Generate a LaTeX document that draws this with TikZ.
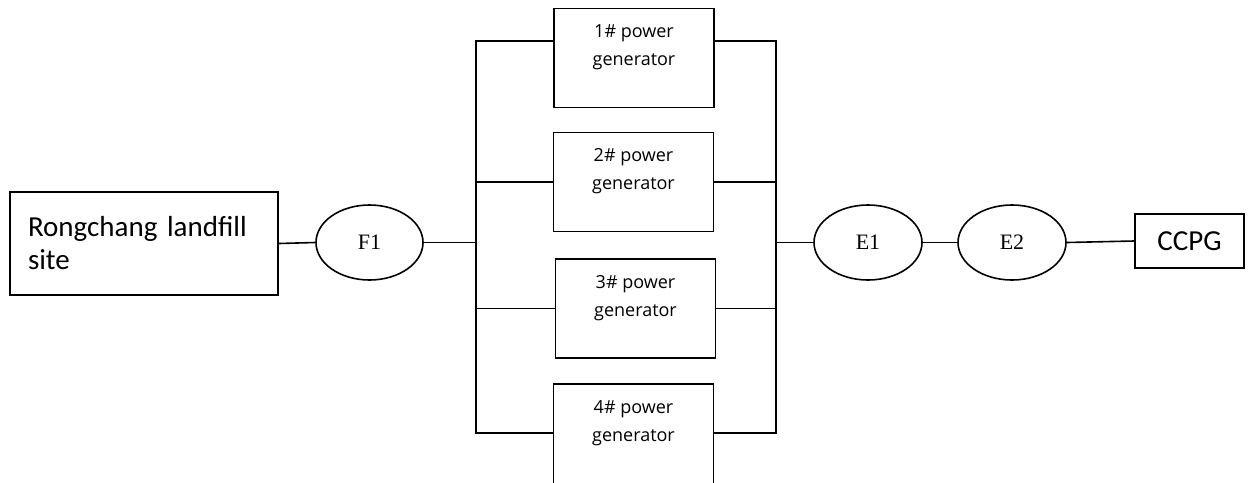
\documentclass[tikz,border=0pt]{standalone}
\usepackage{fontspec}
\usetikzlibrary{shapes.geometric,calc}
\newfontfamily\genfont{Open Sans}
\newfontfamily\calfont{Carlito}
\newfontfamily\serfont{Liberation Serif}
\tikzset{
  wire/.style={line width=1.6pt},
  boxstyle/.style={draw, line width=1.6pt, rectangle, inner sep=0pt},
  ell/.style={draw, line width=1.6pt, ellipse, inner sep=0pt, font=\serfont\fontsize{22}{26}\selectfont},
  genbox/.style={boxstyle, minimum width=160pt, minimum height=99pt},
  gentext/.style={anchor=north, inner sep=0pt, yshift=-17pt, align=center, font=\genfont\fontsize{18}{28}\selectfont},
}
\begin{document}
\begin{tikzpicture}[x=1pt,y=-1pt]
\clip (0,0) rectangle (1250,482);
\useasboundingbox (0,0) rectangle (1250,482);
% left box
\node[boxstyle, minimum width=268pt, minimum height=103pt, text width=232pt, align=left,
      font=\calfont\fontsize{29}{33}\selectfont] (site) at (144,243.5) {Rongchang landfill\\site};
\node[ell, minimum width=107pt, minimum height=75pt] (F1) at (369.5,242.5) {F1};
% generators
\node[genbox, label={[gentext]north:{1\# power\\generator}}] (g1) at (634,58) {};
\node[genbox, label={[gentext]north:{2\# power\\generator}}] (g2) at (633.5,182) {};
\node[genbox, label={[gentext]north:{3\# power\\generator}}] (g3) at (635.5,308.5) {};
\node[genbox, minimum height=100pt, label={[gentext]north:{4\# power\\generator}}] (g4) at (633.5,434) {};
% right side
\node[ell, minimum width=108pt, minimum height=75pt] (E1) at (868,242.5) {E1};
\node[ell, minimum width=108pt, minimum height=75pt] (E2) at (1012,242.5) {E2};
\node[boxstyle, minimum width=109pt, minimum height=54pt, font=\calfont\fontsize{29}{33}\selectfont] (CCPG) at (1189.5,241) {CCPG};
% bus coordinates
\coordinate (lt) at (476,41);
\coordinate (lb) at (476,433);
\coordinate (rt) at (776,41);
\coordinate (rb) at (776,433);
% connectors
\draw[wire] (site.east) -- (F1.west);
\draw[wire] (F1.east) -- (F1.east -| lt);
\draw[wire] (g1.west |- lt) -- (lt) -- (lb) -- (g4.west |- lb);
\draw[wire] (g2.west) -- (g2.west -| lt);
\draw[wire] (g3.west) -- (g3.west -| lt);
\draw[wire] (g1.east |- rt) -- (rt) -- (rb) -- (g4.east |- rb);
\draw[wire] (g2.east) -- (g2.east -| rt);
\draw[wire] (g3.east) -- (g3.east -| rt);
\draw[wire] (E1.west -| rt) -- (E1.west);
\draw[wire] (E1.east) -- (E2.west);
\draw[wire] (E2.east) -- (CCPG.west);
\end{tikzpicture}
\end{document}
